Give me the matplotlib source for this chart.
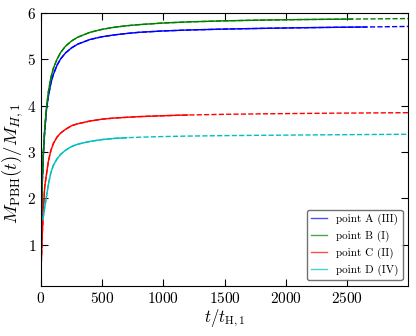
import numpy as np
import matplotlib
matplotlib.use("Agg")
import matplotlib.pyplot as plt

plt.rcParams['font.family'] = 'serif'
plt.rcParams['font.serif'] = ['cmr10', 'DejaVu Serif']
plt.rcParams['mathtext.fontset'] = 'cm'
plt.rcParams['axes.unicode_minus'] = False
plt.rcParams['axes.formatter.use_mathtext'] = True

# curve data (t in units of t_H,1)
t_a = [0, 5, 10, 20, 30, 45, 60, 80, 100, 130, 160, 200, 250, 300, 400, 500,
       600, 700, 800, 1000, 1200, 1500, 1800, 2100, 2400, 2660, 3000]
m_a = [0.3, 1.5, 2.3, 3.0, 3.45, 3.92, 4.2, 4.48, 4.67, 4.87, 5.01, 5.14, 5.25,
       5.33, 5.43, 5.49, 5.53, 5.56, 5.585, 5.615, 5.635, 5.655, 5.67, 5.683,
       5.693, 5.70, 5.712]

t_b = [0, 5, 10, 20, 30, 45, 60, 80, 100, 130, 160, 200, 250, 300, 400, 500,
       600, 700, 800, 1000, 1200, 1500, 1800, 2100, 2545, 3000]
m_b = [0.3, 1.6, 2.4, 3.02, 3.5, 3.98, 4.3, 4.6, 4.8, 5.0, 5.15, 5.285, 5.40,
       5.48, 5.585, 5.65, 5.695, 5.727, 5.751, 5.786, 5.81, 5.833, 5.849, 5.86,
       5.871, 5.882]

t_c = [0, 5, 10, 20, 30, 45, 60, 80, 100, 130, 160, 200, 250, 300, 400, 500,
       600, 700, 800, 1000, 1200, 1500, 1800, 2100, 2400, 2700, 3000]
m_c = [0.45, 0.8, 1.2, 1.8, 2.25, 2.53, 2.8, 3.03, 3.18, 3.32, 3.41, 3.49, 3.57,
       3.61, 3.67, 3.71, 3.735, 3.75, 3.765, 3.785, 3.80, 3.815, 3.825, 3.833,
       3.84, 3.845, 3.85]

t_d = [15, 20, 30, 45, 60, 80, 100, 130, 160, 200, 250, 300, 400, 500, 600,
       700, 800, 1000, 1200, 1500, 1800, 2100, 2400, 2700, 3000]
m_d = [1.55, 1.62, 1.8, 2.05, 2.3, 2.55, 2.71, 2.85, 2.95, 3.04, 3.12, 3.17,
       3.23, 3.27, 3.295, 3.31, 3.32, 3.335, 3.345, 3.355, 3.362, 3.368, 3.374,
       3.379, 3.384]

# end of the simulated (solid) part; the rest is the dashed fit
t_end = [2660, 2545, 1200, 700]
labels = ['point A (III)', 'point B (I)', 'point C (II)', 'point D (IV)']
colors = ['b', 'g', 'r', 'c']

fig = plt.figure(figsize=(4.16, 3.36), dpi=100)
ax = fig.add_axes([0.0986, 0.149, 0.8824, 0.812])

curves = [(t_a, m_a), (t_b, m_b), (t_c, m_c), (t_d, m_d)]
for (t, m), te, lab, c in zip(curves, t_end, labels, colors):
    t = np.array(t)
    m = np.array(m)
    ax.plot(t, m, '--', color=c, lw=1.0)
    keep = t <= te
    ax.plot(t[keep], m[keep], '-', color=c, lw=1.0, label=lab)

ax.set_xlim(0, 3000)
ax.set_ylim(0.11, 6)
ax.set_xticks([0, 500, 1000, 1500, 2000, 2500])
ax.set_yticks([1, 2, 3, 4, 5, 6])
ax.tick_params(direction='in', top=True, right=True, length=5, width=0.8,
               labelsize=11)

ax.set_xlabel(r'$t/t_{\rm H,1}$', fontsize=12, labelpad=1)
ax.set_ylabel(r'$M_{\rm PBH}(t)/M_{H,1}$', fontsize=13.5)
ax.yaxis.set_label_coords(-0.044, 0.447)

leg = ax.legend(loc='lower right', fontsize=8, handlelength=1.4,
                fancybox=True, edgecolor='0.3')
for line in leg.get_lines():
    line.set_alpha(0.7)

fig.savefig('out.png', dpi=100)
